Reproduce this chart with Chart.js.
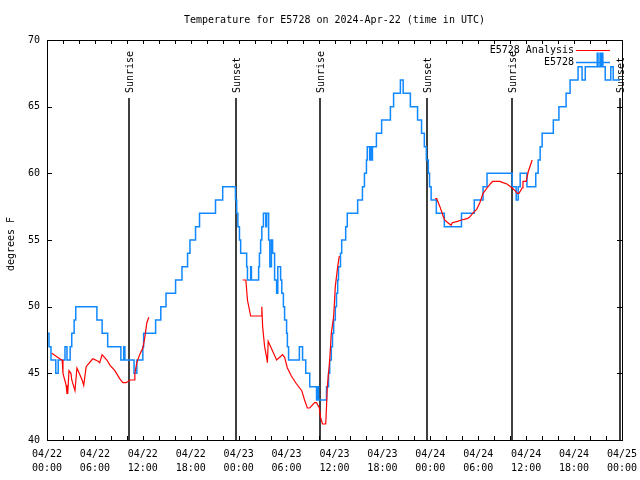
<!DOCTYPE html>
<html>
<head>
<meta charset="utf-8">
<script src="https://cdn.jsdelivr.net/npm/chart.js@4.4.1/dist/chart.umd.min.js"></script>
<style>
  html, body { margin: 0; padding: 0; background: #fff; }
  canvas { display: block; }
</style>
</head>
<body>
<canvas id="chart" width="640" height="480"></canvas>
<script>
const titleText = 'Temperature for E5728 on 2024-Apr-22 (time in UTC)'
const yTitle = 'degrees F'

// hours since 04/22 00:00 UTC
const obsHours = [
  0, 0.25, 0.5, 1.1, 1.4, 2.25, 2.5, 2.9, 3.1, 3.4, 3.6, 6.25, 6.9, 7.6, 9.25, 9.6, 9.75, 10.9, 11.25, 12.0,
  12.1, 13.6, 14.25, 14.9, 16.1, 16.9, 17.6, 17.9, 18.6, 19.1, 21.1, 22.0, 23.6, 23.75, 23.9, 24.1, 24.25, 25.0, 25.1, 25.5,
  25.6, 26.5, 26.6, 26.75, 26.9, 27.1, 27.4, 27.5, 27.75, 27.9, 28.1, 28.25, 28.5, 28.75, 28.9, 29.25, 29.4, 29.6, 29.75, 30.0,
  30.1, 30.25, 31.6, 32.0, 32.4, 32.9, 33.75, 33.9, 34.0, 35.0, 35.25, 35.4, 35.6, 35.75, 35.9, 36.1, 36.25, 36.4, 36.5, 36.75,
  36.9, 37.4, 37.6, 38.9, 39.5, 39.75, 40.0, 40.1, 40.4, 40.5, 40.6, 40.75, 41.25, 41.9, 43.0, 43.4, 44.25, 44.6, 45.5, 46.4,
  46.9, 47.25, 47.5, 47.75, 47.9, 48.1, 48.75, 49.75, 51.9, 53.5, 54.6, 55.1, 58.25, 58.75, 59.0, 59.25, 60.1, 61.2, 61.5, 61.75,
  62.0, 63.4, 64.1, 65.0, 65.5, 66.5, 67.0, 67.4, 68.9, 69.0, 69.25, 69.4, 69.5, 69.6, 69.9, 70.6, 70.9, 71.75
]
const obsTemps = [
  48, 47, 46, 45, 46, 47, 46, 47, 48, 49, 50, 49, 48, 47, 46, 47, 46, 45, 46, 47,
  48, 49, 50, 51, 52, 53, 54, 55, 56, 57, 58, 59, 58, 57, 56, 55, 54, 53, 52, 53,
  52, 53, 54, 55, 56, 57, 56, 57, 55, 53, 55, 54, 52, 51, 53, 52, 51, 50, 49, 48,
  47, 46, 47, 46, 45, 44, 43, 44, 43, 44, 45, 46, 47, 48, 49, 50, 51, 52, 53, 54,
  55, 56, 57, 58, 59, 60, 61, 62, 61, 62, 61, 62, 63, 64, 65, 66, 67, 66, 65, 64,
  63, 62, 61, 60, 59, 58, 57, 56, 57, 58, 59, 60, 59, 58, 59, 60, 59, 60, 61, 62,
  63, 64, 65, 66, 67, 68, 67, 68, 69, 68, 69, 68, 69, 68, 67, 68, 67, 67
]

// analysis values, null marks the gaps
const anaHours = [
  0.6, 1.6, 1.9, 2.0, 2.4, 2.5, 2.6, 2.75, 3.0, 3.1, 3.5, 3.75, 3.9, 4.4, 4.6, 4.9, 5.6, 5.75, 6.4, 6.6,
  6.9, 7.5, 7.9, 8.5, 9.1, 9.5, 9.9, 10.4, 10.9, 11.0, 11.25, 11.6, 12.0, 12.25, 12.5, 12.75, 13.0,
  24.5, 24.9, 25.1, 25.5, 26.8, 26.9, 27.0, 27.25, 27.5, 27.6, 27.7, 28.75, 29.5, 29.75, 30.1, 30.6, 31.25, 31.9,
  32.25, 32.6, 32.9, 33.5, 33.75, 34.1, 34.25, 34.5, 34.9, 35.0, 35.1, 35.4, 35.6, 35.9, 36.1, 36.4, 36.6, 37.0,
  48.6, 48.8, 49.2, 49.6, 49.8, 50.2, 50.6, 50.75, 51.4, 51.9, 52.6, 52.9, 53.3, 53.8, 54.2, 54.6, 55.1, 55.5,
  55.8, 56.7, 57.1, 57.6, 58.25, 58.6, 58.9, 59.1, 59.5, 59.6, 60.0, 60.25, 60.75
]
const anaTemps = [
  46.5, 46.1, 46, 45, 44.1, 43.5, 43.5, 45.2, 45, 44.5, 43.7, 45.4, 45.2, 44.5, 44.1, 45.5, 46, 46.1, 45.9, 45.8,
  46.4, 46, 45.6, 45.2, 44.6, 44.3, 44.3, 44.5, 44.5, 45, 45.8, 46.4, 46.9, 47.7, 48.8, 49.2, null,
  52, 52, 50.5, 49.3, 49.3, 50, 48.5, 47, 46.2, 45.8, 47.4, 46, 46.4, 46.2, 45.4, 44.8, 44.2, 43.7,
  43, 42.4, 42.4, 42.8, 42.8, 42.4, 41.7, 41.2, 41.2, 42.5, 44, 46, 48, 49.3, 51.5, 53, 53.8, null,
  58.1, 58.1, 57.5, 56.8, 56.5, 56.3, 56.1, 56.3, 56.4, 56.5, 56.6, 56.7, 57, 57.3, 57.8, 58.5, 58.9, 59.2,
  59.4, 59.4, 59.3, 59.2, 58.9, 58.7, 58.5, 58.5, 58.9, 59.4, 59.4, 60.1, 61
]

const sunHours = [10.27, 23.67, 34.2, 47.6, 58.2, 71.75]
const sunLabels = ['Sunrise', 'Sunset', 'Sunrise', 'Sunset', 'Sunrise', 'Sunset']

const xTickHours = [0, 6, 12, 18, 24, 30, 36, 42, 48, 54, 60, 66, 72]
const xTickDates = ['04/22', '04/22', '04/22', '04/22', '04/23', '04/23', '04/23', '04/23', '04/24', '04/24', '04/24', '04/24', '04/25']
const xTickTimes = ['00:00', '06:00', '12:00', '18:00', '00:00', '06:00', '12:00', '18:00', '00:00', '06:00', '12:00', '18:00', '00:00']
const yTicks = [40, 45, 50, 55, 60, 65, 70]

const monoFont = '10px "DejaVu Sans Mono", monospace'
const obsColor = 'rgb(16, 136, 255)'
const anaColor = '#ff0000'

const gnuplotFrame = {
  id: 'gnuplotFrame',
  beforeDatasetsDraw(chart) {
    const { ctx, chartArea: a, scales: { x } } = chart
    ctx.save()
    ctx.strokeStyle = '#000'
    ctx.fillStyle = '#000'
    ctx.lineWidth = 1.5
    ctx.font = monoFont
    sunHours.forEach((h, i) => {
      const px = Math.round(x.getPixelForValue(h))
      ctx.beginPath()
      ctx.moveTo(px, a.top + 58)
      ctx.lineTo(px, a.bottom)
      ctx.stroke()
      ctx.save()
      ctx.translate(px + 1, a.top + 53)
      ctx.rotate(-Math.PI / 2)
      ctx.textAlign = 'left'
      ctx.textBaseline = 'middle'
      ctx.fillText(sunLabels[i], 0, 0)
      ctx.restore()
    })
    ctx.restore()
  },
  afterDatasetsDraw(chart) {
    const { ctx, chartArea: a, scales: { x, y } } = chart
    ctx.save()
    ctx.strokeStyle = '#000'
    ctx.fillStyle = '#000'
    ctx.lineWidth = 1
    ctx.strokeRect(a.left + 0.5, a.top + 0.5, a.right - a.left, a.bottom - a.top)

    // x ticks every 2 hours, top and bottom
    ctx.beginPath()
    for (let h = 0; h <= 72; h += 2) {
      const px = Math.round(x.getPixelForValue(h)) + 0.5
      ctx.moveTo(px, a.bottom)
      ctx.lineTo(px, a.bottom - 4)
      ctx.moveTo(px, a.top)
      ctx.lineTo(px, a.top + 4)
    }
    yTicks.forEach((v) => {
      const py = Math.round(y.getPixelForValue(v)) + 0.5
      ctx.moveTo(a.left, py)
      ctx.lineTo(a.left + 5, py)
      ctx.moveTo(a.right, py)
      ctx.lineTo(a.right - 5, py)
    })
    ctx.stroke()

    ctx.font = monoFont
    ctx.textBaseline = 'middle'
    ctx.textAlign = 'right'
    yTicks.forEach((v) => {
      ctx.fillText(String(v), a.left - 7, y.getPixelForValue(v))
    })
    ctx.textAlign = 'center'
    xTickHours.forEach((h, i) => {
      const px = x.getPixelForValue(h)
      ctx.fillText(xTickDates[i], px, a.bottom + 14)
      ctx.fillText(xTickTimes[i], px, a.bottom + 28)
    })

    ctx.fillText(titleText, (a.left + a.right) / 2, 20)

    ctx.save()
    ctx.translate(11, (a.top + a.bottom) / 2 + 4)
    ctx.rotate(-Math.PI / 2)
    ctx.fillText(yTitle, 0, 0)
    ctx.restore()

    // legend
    const rows = [['E5728 Analysis', anaColor, 1.2], ['E5728', obsColor, 1.5]]
    ctx.textAlign = 'right'
    rows.forEach(([label, color, w], i) => {
      const ly = a.top + 10 + i * 12
      ctx.fillStyle = '#000'
      ctx.fillText(label, a.right - 48, ly)
      ctx.strokeStyle = color
      ctx.lineWidth = w
      ctx.beginPath()
      ctx.moveTo(a.right - 46, ly + 0.5)
      ctx.lineTo(a.right - 12, ly + 0.5)
      ctx.stroke()
    })
    ctx.restore()
  }
}

new Chart(document.getElementById('chart'), {
  type: 'line',
  data: {
    datasets: [
      {
        label: 'E5728 Analysis',
        data: anaHours.map((h, i) => ({ x: h, y: anaTemps[i] })),
        borderColor: anaColor,
        borderWidth: 1.2,
        pointRadius: 0,
        tension: 0,
        spanGaps: false,
      },
      {
        label: 'E5728',
        data: obsHours.map((h, i) => ({ x: h, y: obsTemps[i] })),
        borderColor: obsColor,
        borderWidth: 1.5,
        pointRadius: 0,
        stepped: true,
      },
    ],
  },
  options: {
    responsive: false,
    animation: false,
    devicePixelRatio: 1,
    layout: { padding: { left: 47, right: 18, top: 40, bottom: 40 } },
    plugins: { legend: { display: false }, tooltip: { enabled: false } },
    scales: {
      x: { type: 'linear', min: 0, max: 72, display: false },
      y: { min: 40, max: 70, display: false },
    },
  },
  plugins: [gnuplotFrame],
})
</script>
</body>
</html>
